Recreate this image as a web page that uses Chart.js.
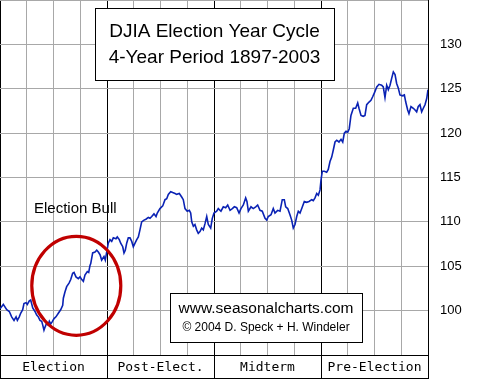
<!DOCTYPE html>
<html>
<head>
<meta charset="utf-8">
<script src="https://cdn.jsdelivr.net/npm/chart.js@4/dist/chart.umd.min.js"></script>
<style>
  html, body { margin: 0; padding: 0; background: #fff; }
  #chart { display: block; }
</style>
</head>
<body>
<canvas id="chart" width="480" height="380"></canvas>
<script>
// position inside the 4-year cycle (0 = start of election year)
const cyclePos = [
    0.000, 0.031, 0.063, 0.087, 0.109, 0.131, 0.150, 0.162, 0.180, 0.193,
    0.212, 0.224, 0.243, 0.255, 0.274, 0.287, 0.306, 0.327, 0.343, 0.358,
    0.374, 0.390, 0.399, 0.411, 0.423, 0.436, 0.449, 0.461, 0.474, 0.486,
    0.505, 0.523, 0.545, 0.567, 0.586, 0.592, 0.607, 0.623, 0.645, 0.661,
    0.679, 0.692, 0.710, 0.732, 0.748, 0.764, 0.779, 0.794, 0.816, 0.829,
    0.841, 0.848, 0.866, 0.888, 0.904, 0.919, 0.935, 0.950, 0.972, 0.984,
    0.997, 1.012, 1.028, 1.044, 1.059, 1.084, 1.096, 1.115, 1.128, 1.147,
    1.159, 1.171, 1.184, 1.199, 1.215, 1.231, 1.246, 1.262, 1.278, 1.293,
    1.308, 1.324, 1.346, 1.364, 1.386, 1.402, 1.418, 1.439, 1.458, 1.470,
    1.495, 1.521, 1.542, 1.558, 1.573, 1.595, 1.614, 1.636, 1.651, 1.676,
    1.698, 1.713, 1.729, 1.750, 1.769, 1.782, 1.792, 1.807, 1.822, 1.838,
    1.853, 1.869, 1.885, 1.900, 1.916, 1.932, 1.947, 1.969, 1.984, 2.000,
    2.025, 2.040, 2.065, 2.087, 2.109, 2.128, 2.150, 2.171, 2.190, 2.212,
    2.234, 2.252, 2.274, 2.296, 2.308, 2.321, 2.346, 2.367, 2.390, 2.408,
    2.430, 2.451, 2.477, 2.493, 2.507, 2.533, 2.554, 2.570, 2.595, 2.617,
    2.638, 2.657, 2.670, 2.689, 2.710, 2.726, 2.741, 2.757, 2.773, 2.788,
    2.804, 2.820, 2.844, 2.866, 2.888, 2.913, 2.928, 2.944, 2.960, 2.975,
    2.991, 3.000, 3.012, 3.031, 3.053, 3.068, 3.084, 3.100, 3.115, 3.131,
    3.147, 3.168, 3.187, 3.203, 3.218, 3.234, 3.250, 3.264, 3.280, 3.302,
    3.324, 3.343, 3.355, 3.374, 3.395, 3.411, 3.427, 3.449, 3.467, 3.483,
    3.498, 3.521, 3.542, 3.567, 3.582, 3.598, 3.614, 3.629, 3.645, 3.661,
    3.676, 3.692, 3.707, 3.722, 3.738, 3.760, 3.779, 3.792, 3.810, 3.822,
    3.841, 3.863, 3.879, 3.894, 3.909, 3.925, 3.941, 3.956, 3.972, 3.988,
    4.000
];
// DJIA seasonal index at those positions
const djiaIndex = [
    100.2, 100.7, 100.1, 99.9, 99.3, 98.9, 99.3, 98.9, 99.3, 99.7,
    100.1, 100.8, 100.9, 100.7, 101.1, 101.2, 100.3, 99.9, 99.5, 99.3,
    98.9, 98.8, 98.4, 97.8, 98.2, 98.6, 98.4, 98.8, 98.5, 98.7,
    99.1, 99.3, 99.7, 100.1, 100.6, 101.4, 102.1, 102.7, 103.1, 103.5,
    104.2, 104.3, 103.8, 103.6, 103.8, 103.5, 103.3, 104.0, 104.4, 104.3,
    105.1, 105.3, 106.5, 106.6, 106.8, 106.6, 106.3, 105.7, 106.1, 105.7,
    106.6, 107.6, 108.0, 107.8, 108.2, 108.1, 108.3, 108.0, 107.6, 107.2,
    106.5, 106.8, 107.6, 108.2, 108.2, 107.8, 107.2, 107.6, 108.0, 108.3,
    109.1, 110.0, 110.2, 110.3, 110.5, 110.4, 110.6, 110.9, 110.6, 111.0,
    111.5, 111.8, 112.5, 112.6, 113.1, 113.4, 113.3, 113.2, 113.1, 113.2,
    112.8, 112.5, 111.5, 111.2, 111.3, 111.0, 110.0, 109.5, 109.7, 109.1,
    108.7, 108.9, 109.3, 109.1, 109.8, 110.6, 109.7, 109.3, 110.4, 111.0,
    111.2, 111.5, 111.2, 111.7, 111.6, 111.9, 111.3, 111.5, 111.7, 111.6,
    111.0, 111.5, 111.9, 112.7, 112.3, 111.2, 111.7, 111.5, 111.7, 111.9,
    111.3, 111.2, 110.4, 110.2, 110.6, 110.8, 111.5, 111.0, 111.3, 111.2,
    112.5, 112.5, 111.7, 111.5, 110.8, 110.2, 109.3, 109.7, 110.6, 111.2,
    111.0, 111.5, 112.3, 112.2, 112.3, 112.5, 112.4, 112.7, 113.2, 113.0,
    113.6, 114.7, 115.7, 115.7, 115.6, 115.9, 116.8, 117.3, 118.1, 119.0,
    119.2, 119.0, 119.3, 119.0, 120.0, 120.2, 120.1, 120.5, 122.0, 122.8,
    122.8, 123.4, 122.8, 122.0, 121.9, 122.0, 123.2, 123.5, 123.7, 124.1,
    124.5, 125.2, 125.5, 125.4, 125.2, 124.0, 125.4, 124.9, 125.4, 126.2,
    126.9, 126.6, 125.6, 125.1, 124.3, 124.2, 124.3, 123.5, 122.6, 122.2,
    123.0, 122.8, 122.6, 122.4, 123.0, 123.2, 122.4, 122.8, 123.2, 123.9,
    124.9
];
const cycleYears = ['Election', 'Post-Elect.', 'Midterm', 'Pre-Election'];
const yTickLabels = [100, 105, 110, 115, 120, 125, 130];
const titleLines = ['DJIA Election Year Cycle', '4-Year Period 1897-2003'];
const creditLines = ['www.seasonalcharts.com', '\u00a9 2004 D. Speck + H. Windeler'];
const bullLabel = 'Election Bull';

const points = djiaIndex.map((v, i) => ({ x: cyclePos[i], y: v }));

const GRID = '#a8a8a8';

// no extra room for half-labels at the ends of the axes
function noPadding(scale) {
    scale.paddingTop = 0;
    scale.paddingBottom = 0;
    scale.paddingLeft = 0;
    scale.paddingRight = 0;
}

// boxes, ellipse and label drawn on top of the plot
const overlayPlugin = {
    id: 'overlay',
    afterDraw(chart) {
        const ctx = chart.ctx;
        const xs = chart.scales.x;
        const ys = chart.scales.y;
        ctx.save();

        // bottom edge of the year band
        ctx.strokeStyle = '#000';
        ctx.lineWidth = 1;
        ctx.beginPath();
        ctx.moveTo(0, xs.bottom - 0.5);
        ctx.lineTo(xs.right, xs.bottom - 0.5);
        ctx.stroke();

        // red ellipse round the election-year rally
        ctx.strokeStyle = '#c00000';
        ctx.lineWidth = 3.2;
        ctx.beginPath();
        ctx.ellipse(xs.getPixelForValue(0.713), ys.getPixelForValue(102.8), 44.5, 49.5, 0, 0, Math.PI * 2);
        ctx.stroke();

        ctx.fillStyle = '#000';
        ctx.font = '15px "Liberation Sans", Arial, sans-serif';
        ctx.textAlign = 'left';
        ctx.textBaseline = 'middle';
        ctx.fillText(bullLabel, 34, 209);

        // title box
        ctx.fillStyle = '#fff';
        ctx.fillRect(95, 8, 239, 72);
        ctx.strokeStyle = '#000';
        ctx.lineWidth = 1;
        ctx.strokeRect(95.5, 8.5, 239, 72);
        ctx.fillStyle = '#000';
        ctx.font = '19px "Liberation Sans", Arial, sans-serif';
        ctx.textAlign = 'center';
        ctx.fillText(titleLines[0], 214.5, 32);
        ctx.fillText(titleLines[1], 214.5, 58);

        // credit box
        ctx.fillStyle = '#fff';
        ctx.fillRect(170, 293, 192, 49);
        ctx.strokeRect(170.5, 293.5, 192, 49);
        ctx.fillStyle = '#000';
        ctx.font = '15.5px "Liberation Sans", Arial, sans-serif';
        ctx.fillText(creditLines[0], 266, 309);
        ctx.font = '12px "Liberation Sans", Arial, sans-serif';
        ctx.fillText(creditLines[1], 266, 328);

        ctx.restore();
    }
};

new Chart(document.getElementById('chart'), {
    type: 'line',
    data: {
        datasets: [{
            data: points,
            borderColor: '#0a22b4',
            borderWidth: 1.6,
            pointRadius: 0,
            tension: 0,
            fill: false,
        }]
    },
    options: {
        responsive: false,
        animation: false,
        layout: { padding: { left: 0, right: 0, top: 0, bottom: 1 } },
        plugins: {
            legend: { display: false },
            tooltip: { enabled: false },
        },
        scales: {
            x: {
                type: 'linear',
                min: 0,
                max: cycleYears.length,
                afterFit: (scale) => { scale.height = 24; noPadding(scale); },
                border: { display: true, color: '#000', width: 1 },
                grid: {
                    color: (c) => Number.isInteger(c.tick.value) ? '#000' : GRID,
                    tickColor: (c) => Number.isInteger(c.tick.value) ? '#000' : 'rgba(0,0,0,0)',
                    drawTicks: true,
                    tickLength: 24,
                },
                ticks: {
                    stepSize: 0.25,
                    autoSkip: false,
                    maxRotation: 0,
                    padding: -19,
                    color: '#000',
                    font: { family: '"DejaVu Sans Mono", monospace', size: 13 },
                    callback: (v) => (v % 1 === 0.5) ? cycleYears[Math.floor(v)] : '',
                },
            },
            y: {
                position: 'right',
                min: 95,
                max: 135,
                afterFit: (scale) => { scale.width = 52; noPadding(scale); },
                border: { display: true, color: '#000', width: 1 },
                grid: {
                    color: (c) => c.tick.value === 95 ? '#000' : GRID,
                    drawTicks: false,
                },
                ticks: {
                    stepSize: 5,
                    padding: 12,
                    color: '#000',
                    font: { family: '"Liberation Sans", Arial, sans-serif', size: 13 },
                    callback: (v) => yTickLabels.includes(v) ? String(v) : '',
                },
            },
        },
    },
    plugins: [overlayPlugin],
});
</script>
</body>
</html>
